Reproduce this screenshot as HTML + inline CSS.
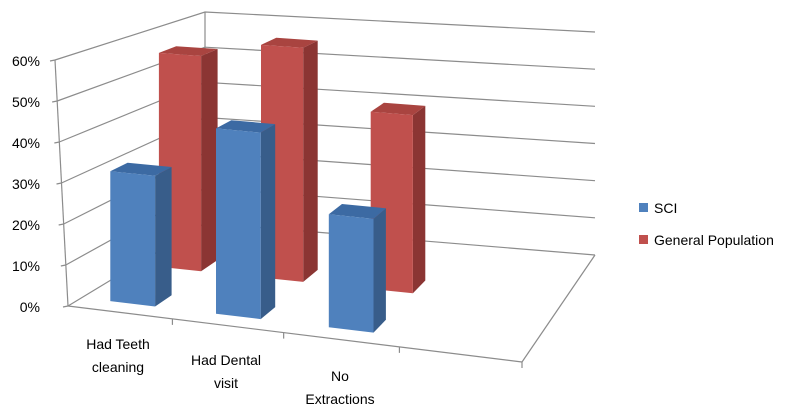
<!DOCTYPE html>
<html><head><meta charset="utf-8"><style>
body{margin:0;background:#fff;}
svg{display:block;font-family:"Liberation Sans",sans-serif;}
</style></head><body>
<svg id="c" width="800" height="414" viewBox="0 0 800 414"></svg>
<script>
const categories=[["Had Teeth","cleaning"],["Had Dental","visit"],["No","Extractions"]];
const sciValues=[32,45,27];
const genValues=[56,60,45];
const tickLabels=["0%","10%","20%","30%","40%","50%","60%"];
const tickValues=[0,10,20,30,40,50,60];
const seriesNames=["SCI","General Population"];

const svg=document.getElementById('c');
const NS='http://www.w3.org/2000/svg';
const FL=[68,306],FR=[522,362],BL=[205,223],BR=[595,255];
const hFL=246,hFR=262,hBL=211,hBR=223,VMAX=60;
function lerp(a,b,t){return a+(b-a)*t;}
function P(u,w,v){
  const fx=lerp(FL[0],FR[0],u),fy=lerp(FL[1],FR[1],u);
  const bx=lerp(BL[0],BR[0],u),by=lerp(BL[1],BR[1],u);
  const h=lerp(lerp(hFL,hFR,u),lerp(hBL,hBR,u),w);
  return [lerp(fx,bx,w),lerp(fy,by,w)-v/VMAX*h];
}
function el(t,a,p){const e=document.createElementNS(NS,t);for(const k in a)e.setAttribute(k,a[k]);(p||svg).appendChild(e);return e;}
function pts(a){return a.map(p=>p[0].toFixed(1)+','+p[1].toFixed(1)).join(' ');}

tickValues.forEach((v,i)=>{
  const fy=lerp(FL[1],60,v/VMAX), fx=lerp(FL[0],55,v/VMAX);
  const b=P(0,1,v), r=P(1,1,v);
  const g=el('polyline',{points:pts([[fx,fy],b,r]),fill:'none',stroke:'#8c8c8c','stroke-width':1.2});
  
  
  const tk=el('line',{x1:fx-5,y1:fy+1,x2:fx,y2:fy,stroke:'#8c8c8c','stroke-width':1.2});
  
  
  const t=el('text',{x:40,y:fy+6,'text-anchor':'end','font-size':14,fill:'#000'});
  t.textContent=tickLabels[i];
  
  
});
const edges=[[[55,60],[FL[0],FL[1]]],[P(0,1,0),P(0,1,VMAX)],[FL,FR],[FR,BR]];
edges.forEach(e=>{const l=el('polyline',{points:pts(e),fill:'none',stroke:'#8c8c8c','stroke-width':1.2});

});
[0.23,0.475,0.73,1].forEach(u=>{const p=P(u,0,0);const l=el('line',{x1:p[0],y1:p[1],x2:p[0],y2:p[1]+6,stroke:'#8c8c8c','stroke-width':1.2});

});

function bar(uc,w0,v,cols,name){
  const u0=uc-0.05,u1=uc+0.05,w1=w0+0.13;
  const g=el('g',{});
  
  
  el('polygon',{points:pts([P(u1,w0,0),P(u1,w1,0),P(u1,w1,v),P(u1,w0,v)]),fill:cols[1]},g);
  el('polygon',{points:pts([P(u0,w0,v),P(u1,w0,v),P(u1,w1,v),P(u0,w1,v)]),fill:cols[2]},g);
  el('polygon',{points:pts([P(u0,w0,0),P(u1,w0,0),P(u1,w0,v),P(u0,w0,v)]),fill:cols[0]},g);
}
const ucBlue=[0.114,0.35,0.602];
const ucRed=[0.103,0.345,0.605];
const red=['#C0504D','#8B3533','#A94440'],blue=['#4F81BD','#385D8A','#3C6AA3'];
genValues.forEach((v,i)=>bar(ucRed[i],0.5,v,red,'bar-general-'+(i+1)));
sciValues.forEach((v,i)=>bar(ucBlue[i],0.1,v,blue,'bar-sci-'+(i+1)));

const labPos=[[118,349],[226,365],[340,381]];
categories.forEach((c,i)=>{
  c.forEach((s,j)=>{const t=el('text',{x:labPos[i][0],y:labPos[i][1]+j*23,'text-anchor':'middle','font-size':14,fill:'#000'});
  t.textContent=s;
  
  });
});
[[blue[0],208],[red[0],240]].forEach((l,i)=>{
  const r=el('rect',{x:639,y:l[1]-5,width:9,height:9,fill:l[0]});
  
  
  const t=el('text',{x:654,y:l[1]+5,'font-size':14,fill:'#000'});
  t.textContent=seriesNames[i];
  
  
});
</script>
</body></html>
